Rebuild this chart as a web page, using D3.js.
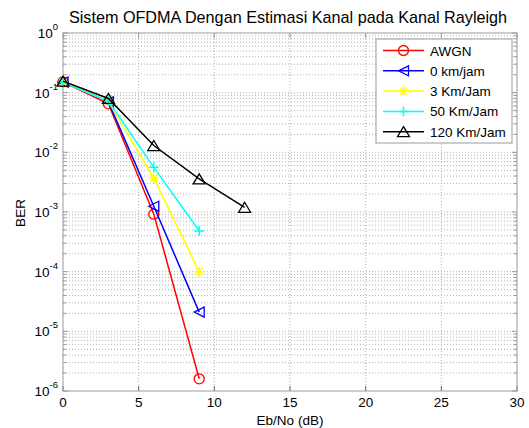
<!DOCTYPE html>
<html>
<head>
<meta charset="utf-8">
<script src="https://cdn.jsdelivr.net/npm/d3@7"></script>
<style>
  body { margin: 0; background: #fff; }
  text { font-family: "Liberation Sans", Arial, sans-serif; fill: #000; }
</style>
</head>
<body>
<div id="container"></div>
<script>
/* DATA */
const ebno = [0, 3, 6, 9];
const ebno120 = [0, 3, 6, 9, 12];
const awgn = [0.152, 0.065, 9.2e-4, 1.6e-6];
const kmh0 = [0.15, 0.070, 1.25e-3, 2.1e-5];
const kmh3 = [0.15, 0.071, 3.7e-3, 1.0e-4];
const kmh50 = [0.15, 0.072, 5.6e-3, 4.8e-4];
const kmh120 = [0.156, 0.08, 1.3e-2, 3.6e-3, 1.2e-3];
const seriesNames = ["AWGN", "0 km/jam", "3 Km/Jam", "50 Km/Jam", "120 Km/Jam"];
const xTicks = [0, 5, 10, 15, 20, 25, 30];
const yExps = [0, -1, -2, -3, -4, -5, -6];

/* CONSTANTS */
const W = 529, H = 428;
const margin = { top: 33, right: 12, bottom: 37, left: 63 };
const width = W - margin.left - margin.right;
const height = H - margin.top - margin.bottom;

const series = [
  { name: seriesNames[0], x: ebno, y: awgn, color: "#ff0000", marker: "circle" },
  { name: seriesNames[1], x: ebno, y: kmh0, color: "#0000ff", marker: "triLeft" },
  { name: seriesNames[2], x: ebno, y: kmh3, color: "#ffff00", marker: "star" },
  { name: seriesNames[3], x: ebno, y: kmh50, color: "#00ffff", marker: "plus" },
  { name: seriesNames[4], x: ebno120, y: kmh120, color: "#000000", marker: "triUp" }
];

/* SCALES */
const xScale = d3.scaleLinear().domain([0, 30]).range([0, width]);
const yScale = d3.scaleLog().domain([1e-6, 1]).range([height, 0]);

const svg = d3.select("#container").append("svg")
  .attr("width", W).attr("height", H);

const g = svg.append("g")
  .attr("transform", `translate(${margin.left}, ${margin.top})`);

// grid
const minorY = [];
for (let e = -6; e < 0; e++) {
  for (let m = 2; m <= 9; m++) minorY.push(m * Math.pow(10, e));
}
g.selectAll("line.ygrid-minor").data(minorY).join("line")
  .attr("x1", 0).attr("x2", width)
  .attr("y1", d => yScale(d)).attr("y2", d => yScale(d))
  .attr("stroke", "#b0b0b0").attr("stroke-width", 1)
  .attr("stroke-dasharray", "1,2");

g.selectAll("line.ygrid").data(yExps.slice(1, -1)).join("line")
  .attr("x1", 0).attr("x2", width)
  .attr("y1", d => yScale(Math.pow(10, d))).attr("y2", d => yScale(Math.pow(10, d)))
  .attr("stroke", "#b0b0b0").attr("stroke-dasharray", "1,2");

g.selectAll("line.xgrid").data(xTicks.slice(1, -1)).join("line")
  .attr("x1", d => xScale(d)).attr("x2", d => xScale(d))
  .attr("y1", 0).attr("y2", height)
  .attr("stroke", "#b0b0b0").attr("stroke-dasharray", "1,2");

// tick marks (inside, both sides)
const tickLen = 5, minorLen = 3;
minorY.forEach(v => {
  const y = yScale(v);
  g.append("line").attr("x1", 0).attr("x2", minorLen).attr("y1", y).attr("y2", y).attr("stroke", "#999");
  g.append("line").attr("x1", width).attr("x2", width - minorLen).attr("y1", y).attr("y2", y).attr("stroke", "#999");
});
yExps.forEach(e => {
  const y = yScale(Math.pow(10, e));
  g.append("line").attr("x1", 0).attr("x2", tickLen).attr("y1", y).attr("y2", y).attr("stroke", "#999");
  g.append("line").attr("x1", width).attr("x2", width - tickLen).attr("y1", y).attr("y2", y).attr("stroke", "#999");
});
xTicks.forEach(t => {
  const x = xScale(t);
  g.append("line").attr("x1", x).attr("x2", x).attr("y1", height).attr("y2", height - tickLen).attr("stroke", "#666");
  g.append("line").attr("x1", x).attr("x2", x).attr("y1", 0).attr("y2", tickLen).attr("stroke", "#999");
});

// frame
g.append("rect").attr("x", 0).attr("y", 0).attr("width", width).attr("height", height)
  .attr("fill", "none").attr("stroke", "#999").attr("stroke-width", 1);

// tick labels
g.selectAll("text.xtick").data(xTicks).join("text")
  .attr("x", d => xScale(d)).attr("y", height + 16)
  .attr("text-anchor", "middle").style("font-size", "13.5px")
  .text(d => d);

const yLab = g.selectAll("text.ytick").data(yExps).join("text")
  .attr("x", -5).attr("y", d => yScale(Math.pow(10, d)) + 5)
  .attr("text-anchor", "end").style("font-size", "13.5px");
yLab.append("tspan").text("10");
yLab.append("tspan").attr("dy", -8).style("font-size", "9.5px").text(d => d);

// axis titles
svg.append("text").attr("x", margin.left + width / 2).attr("y", 425)
  .attr("text-anchor", "middle").style("font-size", "13.5px").text("Eb/No (dB)");
svg.append("text").attr("transform", "translate(25, 213) rotate(-90)")
  .attr("text-anchor", "middle").style("font-size", "13.5px").text("BER");
svg.append("text").attr("x", 288).attr("y", 23)
  .attr("text-anchor", "middle").style("font-size", "16.2px")
  .text("Sistem OFDMA Dengan Estimasi Kanal pada Kanal Rayleigh");

// markers
function drawMarker(sel, type, color) {
  const s = 5;
  if (type === "circle") {
    sel.append("circle").attr("r", s).attr("fill", "none").attr("stroke", color).attr("stroke-width", 1.3);
  } else if (type === "triLeft") {
    sel.append("path").attr("d", `M${-s},0L${s},${-s}L${s},${s}Z`)
      .attr("fill", "none").attr("stroke", color).attr("stroke-width", 1.3);
  } else if (type === "triUp") {
    sel.append("path").attr("d", `M0,${-s}L${s + 1},${s}L${-s - 1},${s}Z`)
      .attr("fill", "none").attr("stroke", color).attr("stroke-width", 1.3);
  } else if (type === "plus") {
    sel.append("path").attr("d", `M${-s},0L${s},0M0,${-s}L0,${s}`)
      .attr("stroke", color).attr("stroke-width", 1.5);
  } else if (type === "star") {
    sel.append("path").attr("d", `M${-s},0L${s},0M0,${-s}L0,${s}M${-3.5},${-3.5}L3.5,3.5M${-3.5},3.5L3.5,${-3.5}`)
      .attr("stroke", color).attr("stroke-width", 1.5);
  }
}

const line = d3.line().x(d => xScale(d[0])).y(d => yScale(d[1]));
const plot = g.append("g");
series.forEach(s => {
  const pts = s.x.map((x, i) => [x, s.y[i]]);
  plot.append("path").datum(pts).attr("d", line)
    .attr("fill", "none").attr("stroke", s.color).attr("stroke-width", 1.5);
  pts.forEach(p => {
    const m = plot.append("g").attr("transform", `translate(${xScale(p[0])}, ${yScale(p[1])})`);
    drawMarker(m, s.marker, s.color);
  });
});

// legend
const leg = svg.append("g").attr("transform", "translate(376, 39)");
leg.append("rect").attr("width", 136).attr("height", 104)
  .attr("fill", "#fff").attr("stroke", "#999");
series.forEach((s, i) => {
  const y = 11.5 + i * 20.3;
  leg.append("line").attr("x1", 7).attr("x2", 48).attr("y1", y).attr("y2", y)
    .attr("stroke", s.color).attr("stroke-width", 1.5);
  const m = leg.append("g").attr("transform", `translate(27.5, ${y})`);
  drawMarker(m, s.marker, s.color);
  leg.append("text").attr("x", 54).attr("y", y + 5).style("font-size", "13.5px").text(s.name);
});
</script>
</body>
</html>
